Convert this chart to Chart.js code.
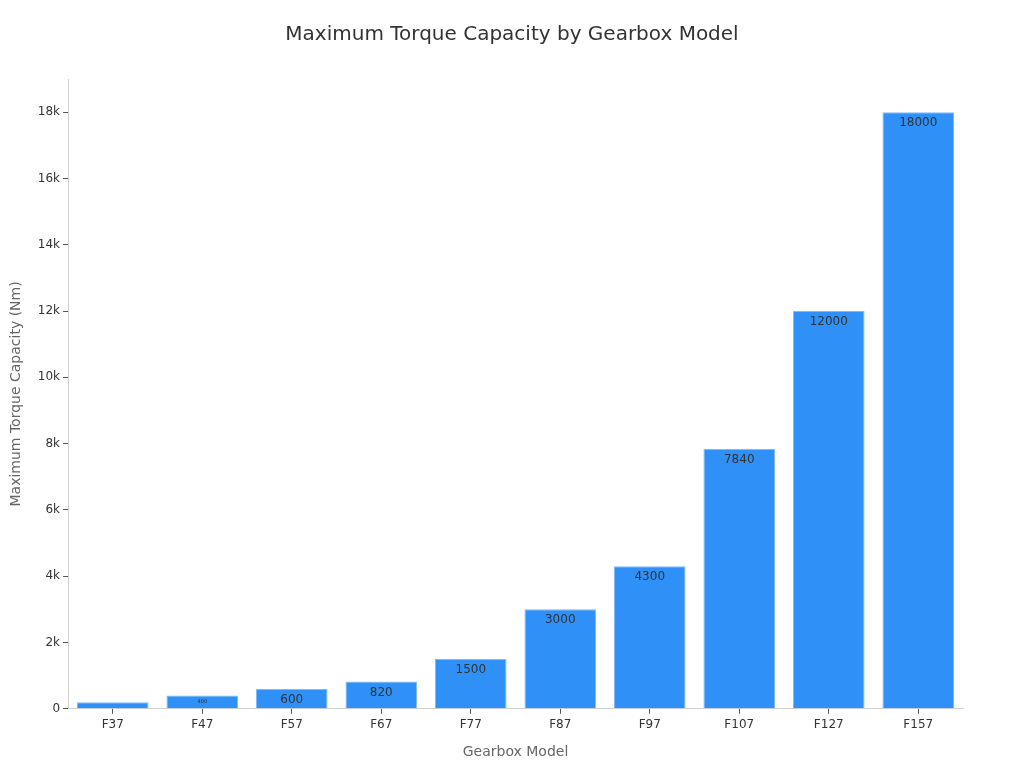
<!DOCTYPE html>
<html>
<head>
<meta charset="utf-8">
<script src="https://cdn.jsdelivr.net/npm/chart.js@4"></script>
<style>
    html, body { margin: 0; padding: 0; background: #fff; }
    .chart-box { width: 1024px; height: 768px; position: relative; }
</style>
</head>
<body>
<div class="chart-box"><canvas id="torque-chart"></canvas></div>
<script>
const models = ["F37", "F47", "F57", "F67", "F77", "F87", "F97", "F107", "F127", "F157"];
const torque = [200, 400, 600, 820, 1500, 3000, 4300, 7840, 12000, 18000];
const yTickValues = [0, 2000, 4000, 6000, 8000, 10000, 12000, 14000, 16000, 18000];

Chart.defaults.font.family = "'DejaVu Sans', sans-serif";
Chart.defaults.color = "#333";

// 막대 안쪽 위에 값 표시
const barLabelPlugin = {
    id: "barLabel",
    afterDatasetsDraw(chart) {
        const { ctx } = chart;
        const meta = chart.getDatasetMeta(0);
        ctx.save();
        ctx.fillStyle = "#333";
        ctx.textAlign = "center";
        ctx.textBaseline = "top";
        meta.data.forEach((bar, i) => {
            const h = bar.base - bar.y;
            let size = 12;
            if (h < 18) size = h * 0.4;
            if (size < 4) return;
            ctx.font = size + "px 'DejaVu Sans', sans-serif";
            const offset = h < 18 ? (h - size) / 2 : 5;
            ctx.fillText(String(torque[i]), bar.x, bar.y + offset);
        });
        ctx.restore();
    },
};

new Chart(document.getElementById("torque-chart"), {
    type: "bar",
    data: {
        labels: models,
        datasets: [
            {
                data: torque,
                backgroundColor: "#2f91f8",
                borderColor: "#7fbaf7",
                borderWidth: 1,
                categoryPercentage: 1.0,
                barPercentage: 0.8,
            },
        ],
    },
    options: {
        responsive: true,
        maintainAspectRatio: false,
        animation: false,
        layout: { padding: { top: 12, right: 4, bottom: 3, left: 4 } },
        plugins: {
            legend: { display: false },
            tooltip: { enabled: false },
            title: {
                display: true,
                text: "Maximum Torque Capacity by Gearbox Model",
                color: "#333",
                font: { size: 20, weight: "normal" },
                padding: { top: 11, bottom: 32 },
            },
        },
        scales: {
            x: {
                grid: { display: true, drawOnChartArea: false, offset: false, color: "#555", tickLength: 5 },
                border: { color: "#d0d0d0" },
                ticks: { color: "#333", font: { size: 12 }, padding: 4 },
                title: {
                    display: true,
                    text: "Gearbox Model",
                    color: "#666",
                    font: { size: 14 },
                    padding: { top: 8 },
                },
            },
            y: {
                min: 0,
                max: 19000,
                grid: { display: true, drawOnChartArea: false, color: "#555", tickLength: 5 },
                border: { color: "#d0d0d0" },
                afterBuildTicks: (axis) => {
                    axis.ticks = yTickValues.map((v) => ({ value: v }));
                },
                ticks: {
                    color: "#333",
                    font: { size: 12 },
                    padding: 3,
                    callback: (v) => (v === 0 ? "0" : v / 1000 + "k"),
                },
                title: {
                    display: true,
                    text: "Maximum Torque Capacity (Nm)",
                    color: "#666",
                    font: { size: 14 },
                    padding: { bottom: 10 },
                },
            },
            // 오른쪽 여백용 빈 축
            yRight: {
                position: "right",
                display: true,
                grid: { display: false },
                border: { display: false },
                ticks: { display: false },
                afterFit: (axis) => {
                    axis.width = 57;
                },
            },
        },
    },
    plugins: [barLabelPlugin],
});
</script>
</body>
</html>
